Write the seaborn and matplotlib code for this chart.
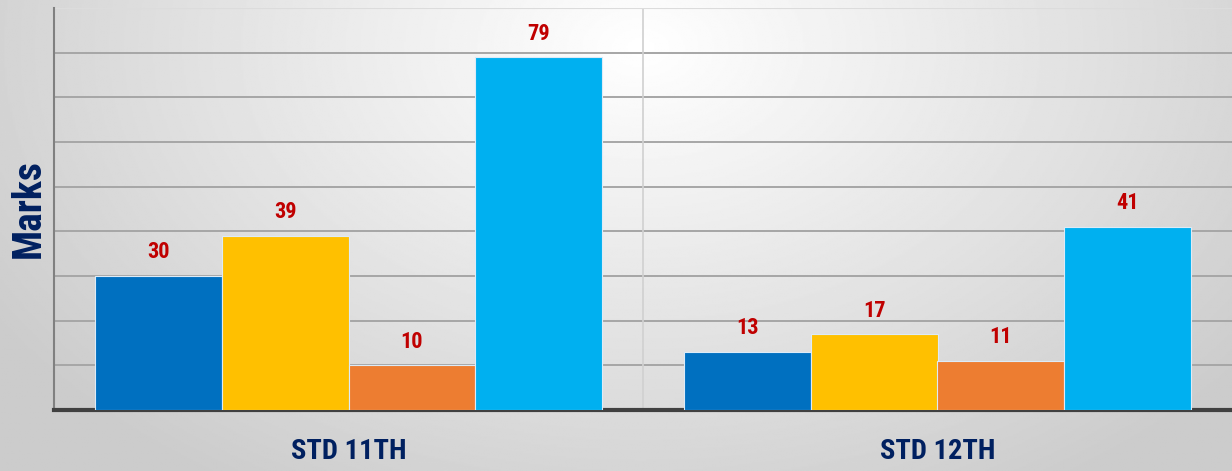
import numpy as np
import pandas as pd
import matplotlib
matplotlib.use("Agg")
import matplotlib.pyplot as plt
from matplotlib import font_manager
import seaborn as sns

# chart data
classes = ["STD 11TH", "STD 12TH"]
series = ["A", "B", "C", "D"]
marks_11 = [30, 39, 10, 79]
marks_12 = [13, 17, 11, 41]
colors = ["#0070C0", "#FFC000", "#ED7D31", "#00B0F0"]

df = pd.DataFrame({
    "Class": [classes[0]] * 4 + [classes[1]] * 4,
    "Series": series * 2,
    "Marks": marks_11 + marks_12,
})

sns.set_theme(style="white")
plt.rcParams["font.family"] = ["Liberation Sans", "DejaVu Sans"]


def weight_num(w):
    if isinstance(w, int):
        return w
    return font_manager.weight_dict.get(w, 400)


# look for a bold condensed face (like the original chart font)
cands = [f for f in font_manager.fontManager.ttflist
         if ("Narrow" in f.name or "Condensed" in f.name or f.stretch == "condensed")
         and weight_num(f.weight) >= 700 and f.style == "normal"]
cands.sort(key=lambda f: (0 if "Roboto" in f.name else 1, abs(weight_num(f.weight) - 700)))
if cands:
    def fp(size):
        return font_manager.FontProperties(fname=cands[0].fname, size=size)
else:
    def fp(size):
        return font_manager.FontProperties(family="Liberation Sans", weight="bold",
                                           size=size)

fig = plt.figure(figsize=(12.32, 4.71), dpi=100)

# gradient background
bg = fig.add_axes([0, 0, 1, 1], zorder=0)
yy, xx = np.mgrid[0:1:300j, 0:1:800j]
r = np.sqrt(((xx - 0.52) * 1.25) ** 2 + ((yy - 0.1) * 0.7) ** 2)
shade = np.clip(1.0 - 0.26 * r, 0.8, 1.0)
bg.imshow(shade, cmap="gray", vmin=0, vmax=1, aspect="auto", extent=[0, 1, 1, 0])
bg.axis("off")

ax = fig.add_axes([54 / 1232, 61 / 471, 1 - 54 / 1232, 402 / 471], zorder=1)
ax.set_facecolor("none")

sns.barplot(data=df, x="Class", y="Marks", hue="Series", palette=colors,
            saturation=1, width=0.86, gap=0, edgecolor="#DDEBF7", linewidth=0.8,
            legend=False, ax=ax, zorder=3)

ax.set_ylim(0, 90)
ax.set_xlim(-0.5, 1.5)
ax.set_yticks(np.arange(0, 91, 10))
ax.set_yticklabels([])
ax.tick_params(axis="y", length=0)
ax.tick_params(axis="x", length=0, pad=20)
ax.yaxis.grid(True, color="#A6A6A6", linewidth=1.4, zorder=0)
ax.axvline(0.5, color="#D0D0D0", linewidth=1.2, zorder=1)

for lbl in ax.get_xticklabels():
    lbl.set_fontproperties(fp(20.5))
    lbl.set_color("#002060")

ax.set_xlabel("")
ax.set_ylabel("Marks", fontproperties=fp(28.5), color="#002060", labelpad=1)

for side in ["top", "right"]:
    ax.spines[side].set_visible(False)
ax.spines["left"].set_color("#808080")
ax.spines["left"].set_linewidth(1.5)
ax.spines["bottom"].set_color("#404040")
ax.spines["bottom"].set_linewidth(3)
ax.axhline(90, color="#DCDCDC", linewidth=1.5, zorder=1)

for cont in ax.containers:
    ax.bar_label(cont, padding=9, fontproperties=fp(16), color="#C00000")

fig.savefig("out.png", dpi=100)
